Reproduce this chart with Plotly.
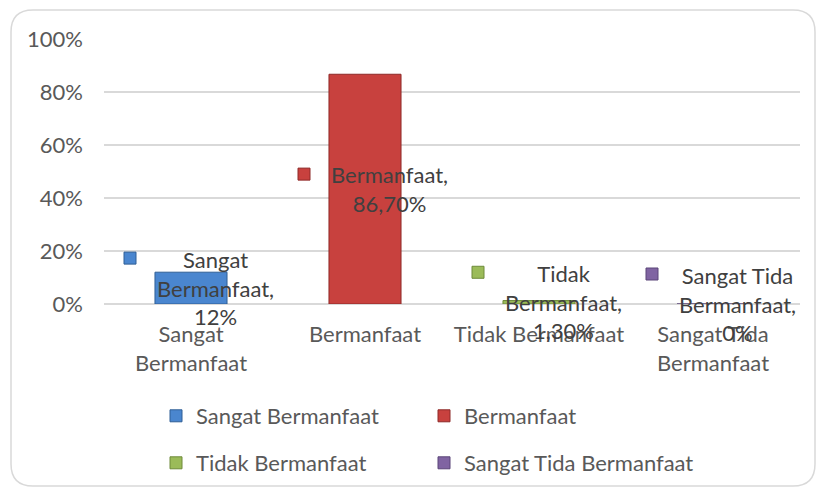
import plotly.graph_objects as go

# ---------------- data ----------------
categories = ["Sangat Bermanfaat", "Bermanfaat", "Tidak Bermanfaat", "Sangat Tida Bermanfaat"]
tick_labels = ["Sangat<br>Bermanfaat", "Bermanfaat", "Tidak Bermanfaat", "Sangat Tida<br>Bermanfaat"]
values = [0.12, 0.867, 0.013, 0.0]
value_labels = ["12%", "86,70%", "1,30%", "0%"]
label_names = ["Sangat<br>Bermanfaat", "Bermanfaat", "Tidak<br>Bermanfaat", "Sangat Tida<br>Bermanfaat"]
y_tick_vals = [0, 0.2, 0.4, 0.6, 0.8, 1.0]
y_tick_text = ["0%", "20%", "40%", "60%", "80%", "100%"]

# ---------------- style ----------------
colors = ["#4A86CF", "#C8413E", "#9BBB59", "#8064A2"]
edges = ["#2F5F96", "#8E2A28", "#6E8A3A", "#5A4578"]
FONT = "Lato"
FS = 22
GREY = "#595959"
W, H = 821, 491
ML, MR, MT, MB = 104, 21, 39, 187
PW, PH = W - ML - MR, H - MT - MB

def px2paper(px, py):
    return (px - ML) / PW, (H - MB - py) / PH

legend_ids = ["legend", "legend2", "legend3", "legend4"]
# legend grid: 2 columns x 2 rows (container pixel positions)
leg_x = [156, 424, 156, 424]
leg_y = [416, 416, 463, 463]

fig = go.Figure()
for i, cat in enumerate(categories):
    fig.add_trace(go.Bar(
        x=[cat], y=[values[i]], name=cat,
        marker=dict(color=colors[i], line=dict(color=edges[i], width=1)),
        width=0.414,
        legend=legend_ids[i],
        hoverinfo="skip",
    ))

annotations = []
shapes = []
for i, cat in enumerate(categories):
    txt = label_names[i] + ",<br>" + value_labels[i]
    nlines = txt.count("<br>") + 1
    ymid = values[i] / 2
    annotations.append(dict(
        x=cat, y=ymid, xref="x", yref="y", text=txt, showarrow=False,
        xshift=24, align="center", xanchor="center", yanchor="middle",
        font=dict(family=FONT, size=FS, color="#404040"),
    ))
    dy = 15 * (nlines - 1)
    shapes.append(dict(
        type="rect", xref="x", yref="y", xsizemode="pixel", ysizemode="pixel",
        xanchor=cat, yanchor=ymid, x0=-67, x1=-55, y0=dy - 6, y1=dy + 6,
        fillcolor=colors[i], line=dict(color=edges[i], width=1), layer="above",
    ))

# rounded chart border
L, T, R, B, r = 11, 10, 815, 486, 22
def P(x, y):
    a, b = px2paper(x, y)
    return f"{a:.5f},{b:.5f}"
path = (f"M {P(L + r, T)} L {P(R - r, T)} Q {P(R, T)} {P(R, T + r)} "
        f"L {P(R, B - r)} Q {P(R, B)} {P(R - r, B)} L {P(L + r, B)} "
        f"Q {P(L, B)} {P(L, B - r)} L {P(L, T + r)} Q {P(L, T)} {P(L + r, T)} Z")
shapes.append(dict(type="path", xref="paper", yref="paper", path=path,
                   line=dict(color="#D9D9D9", width=1.5), layer="below"))

legends = {}
for i, lid in enumerate(legend_ids):
    legends[lid] = dict(
        orientation="h", xanchor="left", yanchor="middle",
        xref="container", yref="container",
        x=leg_x[i] / W, y=1 - leg_y[i] / H,
        font=dict(family=FONT, size=FS, color=GREY),
        bgcolor="rgba(0,0,0,0)",
    )

fig.update_layout(
    width=W, height=H,
    margin=dict(l=ML, r=MR, t=MT, b=MB, autoexpand=False),
    paper_bgcolor="white", plot_bgcolor="white",
    barmode="overlay",
    font=dict(family=FONT, size=FS, color=GREY),
    showlegend=True,
    annotations=annotations,
    shapes=shapes,
    xaxis=dict(
        type="category", categoryorder="array", categoryarray=categories,
        tickmode="array", tickvals=categories, ticktext=tick_labels,
        showgrid=False, showline=False, zeroline=False, ticks="",
        ticklabelstandoff=15, automargin=False,
        tickfont=dict(family=FONT, size=FS, color=GREY),
        range=[-0.5, 3.5],
    ),
    yaxis=dict(
        range=[0, 1.0], tickmode="array", tickvals=y_tick_vals, ticktext=y_tick_text,
        showgrid=True, gridcolor="#D9D9D9", gridwidth=1.5,
        zeroline=True, zerolinecolor="#D9D9D9", zerolinewidth=1.5,
        showline=False, ticks="", ticklabelstandoff=20, automargin=False,
        tickfont=dict(family=FONT, size=FS, color=GREY),
    ),
    **legends,
)

fig.write_html("out.html", config={"displayModeBar": False},
               post_script="document.body.style.margin='0';document.body.style.overflow='hidden';")
